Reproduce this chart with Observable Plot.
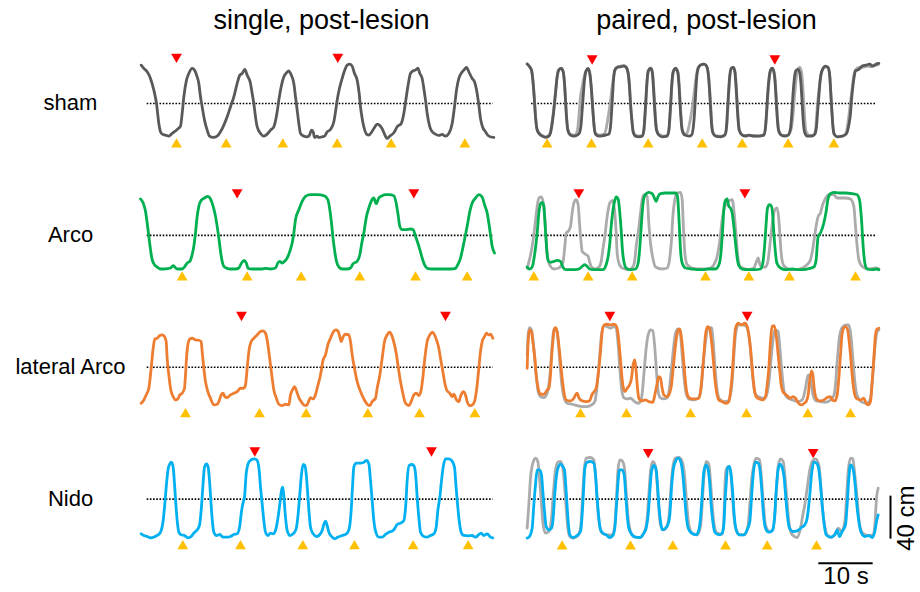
<!DOCTYPE html>
<html><head><meta charset="utf-8">
<script src="https://cdn.jsdelivr.net/npm/d3@7"></script>
<script src="https://cdn.jsdelivr.net/npm/@observablehq/plot@0.6"></script>
<style>body{margin:0;background:#fff}#chart svg{display:block}</style>
</head><body><div id="chart"></div>
<script>
// ---- categories ----
const conditions = ["single, post-lesion", "paired, post-lesion"];
const groups = ["sham", "Arco", "lateral Arco", "Nido"];

const T_PER_S = 16.3;        // time units per second (10 s bar)
const UNITS_PER_CM = 129 / 40; // height units per cm (40 cm bar)

// ---- traces: [time, height] ----
const shamSingle = [[32,115],[40,105],[50,95],[60,75],[70,40],[78,0],[85,-60],[90,-85],[95,-92],[105,-95],[115,-98],[125,-90],[140,-78],[150,-68],[155,-30],[160,20],[168,70],[175,90],[185,105],[192,100],[200,80],[205,60],[210,20],[215,-10],[222,-50],[230,-80],[237,-98],[248,-102],[260,-98],[270,-85],[280,-65],[290,-40],[300,-10],[310,20],[320,60],[328,85],[335,90],[343,102],[350,85],[360,60],[365,30],[370,0],[375,-40],[380,-70],[390,-90],[400,-98],[410,-92],[420,-80],[430,-70],[440,-25],[445,10],[452,50],[460,80],[468,92],[475,98],[480,90],[490,60],[495,20],[500,-20],[505,-60],[510,-90],[520,-98],[530,-100],[537,-95],[543,-80],[548,-85],[552,-102],[560,-98],[565,-102],[575,-100],[582,-98],[590,-85],[600,-78],[610,-55],[615,-25],[620,10],[628,50],[635,75],[642,98],[650,115],[658,118],[665,112],[672,90],[680,70],[686,30],[690,-10],[695,-45],[700,-70],[708,-92],[715,-95],[722,-88],[732,-72],[740,-62],[748,-66],[756,-78],[762,-92],[770,-105],[778,-98],[790,-88],[800,-70],[812,-60],[820,-30],[826,10],[832,50],[840,90],[848,98],[855,100],[862,106],[868,90],[875,75],[880,45],[885,10],[890,-30],[898,-70],[905,-85],[915,-92],[925,-96],[935,-93],[945,-98],[955,-90],[965,-60],[972,-10],[978,40],[985,75],[993,92],[1000,100],[1008,108],[1015,95],[1025,75],[1032,65],[1040,30],[1045,-5],[1050,-45],[1056,-70],[1065,-85],[1075,-98],[1090,-102]];

const shamPaired = [[35,118],[42,110],[48,100],[52,70],[56,20],[60,-40],[65,-80],[72,-92],[80,-98],[90,-102],[100,-98],[105,-88],[110,-60],[115,-20],[120,30],[125,80],[130,100],[137,105],[143,95],[147,60],[150,10],[153,-40],[157,-80],[165,-95],[175,-98],[185,-95],[192,-88],[197,-60],[200,-20],[203,20],[207,70],[212,98],[218,105],[223,90],[228,40],[232,-20],[236,-70],[240,-92],[250,-98],[260,-97],[270,-95],[280,-92],[285,-70],[288,-30],[291,20],[294,70],[298,100],[305,108],[315,110],[325,112],[332,108],[338,90],[342,50],[345,0],[349,-50],[353,-85],[360,-98],[370,-100],[380,-98],[385,-80],[388,-40],[391,10],[394,60],[398,98],[405,105],[410,95],[413,60],[416,10],[419,-40],[423,-80],[430,-95],[440,-100],[455,-98],[460,-80],[463,-40],[466,10],[469,60],[473,95],[480,105],[487,92],[490,60],[493,10],[496,-40],[500,-80],[508,-95],[520,-98],[528,-95],[533,-75],[537,-30],[540,20],[543,70],[548,105],[555,115],[565,118],[572,114],[578,90],[582,40],[585,-10],[588,-60],[592,-88],[600,-98],[615,-100],[628,-95],[633,-70],[636,-20],[639,30],[642,75],[647,105],[653,108],[658,95],[661,60],[664,10],[667,-40],[671,-80],[680,-95],[690,-98],[700,-95],[715,-98],[730,-98],[745,-95],[750,-70],[753,-30],[756,20],[760,70],[765,100],[770,106],[775,95],[779,60],[782,10],[785,-40],[789,-80],[797,-95],[808,-98],[818,-95],[825,-75],[829,-30],[832,20],[836,70],[841,98],[848,102],[853,90],[857,50],[860,0],[863,-50],[867,-85],[875,-98],[888,-98],[898,-92],[903,-70],[906,-30],[910,20],[914,70],[920,100],[930,112],[938,108],[943,80],[946,30],[949,-20],[952,-65],[956,-92],[965,-100],[980,-98],[992,-92],[1000,-65],[1005,-30],[1008,10],[1012,50],[1016,80],[1020,98],[1030,102],[1040,112],[1052,115],[1062,118],[1072,112],[1082,118],[1090,120]];

const shamPairedRef = [[35,120],[42,112],[48,100],[52,72],[56,25],[60,-35],[65,-78],[72,-90],[80,-96],[90,-100],[100,-96],[105,-85],[110,-55],[115,-15],[120,35],[125,82],[130,102],[137,106],[143,96],[147,62],[150,12],[153,-38],[157,-78],[165,-93],[178,-95],[186,-80],[190,-40],[195,20],[200,50],[207,85],[213,100],[218,104],[223,88],[228,38],[232,-20],[236,-68],[240,-90],[252,-95],[265,-92],[272,-75],[278,-40],[284,0],[290,50],[296,90],[302,108],[315,112],[325,114],[332,110],[338,92],[342,52],[345,2],[349,-48],[353,-83],[360,-96],[372,-98],[382,-95],[386,-75],[389,-35],[392,15],[395,65],[400,100],[406,107],[411,96],[414,60],[417,10],[420,-40],[424,-80],[432,-94],[445,-98],[456,-95],[461,-75],[464,-35],[467,15],[470,65],[474,96],[481,106],[488,92],[491,58],[494,8],[497,-42],[501,-82],[510,-93],[515,-88],[520,-70],[526,-40],[532,0],[537,40],[542,80],[548,108],[556,116],[566,118],[573,112],[579,88],[583,38],[586,-12],[589,-62],[593,-88],[602,-97],[618,-98],[629,-92],[634,-65],[637,-15],[640,35],[643,78],[648,106],[654,108],[659,94],[662,58],[665,8],[668,-42],[672,-82],[682,-95],[700,-96],[730,-97],[746,-92],[751,-65],[754,-25],[757,25],[761,72],[766,101],[771,106],[776,94],[780,58],[783,8],[786,-42],[790,-82],[800,-95],[815,-96],[826,-80],[832,-40],[836,10],[840,55],[845,95],[852,108],[858,95],[862,50],[865,0],[868,-50],[872,-85],[882,-96],[895,-95],[900,-80],[905,-15],[909,30],[914,70],[920,98],[930,110],[938,106],[943,78],[946,28],[949,-22],[952,-67],[956,-92],[966,-100],[985,-97],[993,-85],[997,-60],[1001,-30],[1005,5],[1010,45],[1014,78],[1020,100],[1030,108],[1042,108],[1055,112],[1065,110],[1075,114],[1088,116]];

const arcoSingle = [[30,109],[38,97],[45,72],[50,37],[55,-3],[60,-43],[65,-73],[72,-88],[80,-95],[90,-101],[100,-101],[110,-100],[120,-98],[128,-91],[133,-95],[140,-101],[155,-101],[162,-95],[170,-83],[178,-78],[185,-58],[190,-33],[195,7],[200,57],[205,87],[212,105],[222,112],[232,117],[240,109],[248,87],[255,57],[260,27],[265,-8],[270,-48],[275,-78],[280,-93],[290,-99],[300,-101],[315,-101],[325,-98],[333,-83],[342,-75],[348,-85],[353,-99],[365,-101],[380,-101],[395,-101],[405,-99],[420,-101],[435,-98],[442,-83],[448,-78],[455,-83],[462,-78],[470,-68],[478,-48],[485,-23],[490,7],[495,47],[505,77],[515,102],[525,117],[540,122],[560,122],[580,119],[592,107],[598,77],[603,37],[607,-3],[612,-43],[618,-78],[625,-95],[635,-101],[650,-101],[660,-98],[668,-85],[680,-78],[688,-58],[693,-28],[700,7],[708,57],[715,82],[722,102],[730,112],[737,95],[745,112],[755,119],[765,122],[775,122],[790,119],[797,97],[802,67],[808,27],[815,17],[825,17],[840,19],[848,17],[855,-3],[862,-23],[868,-43],[875,-68],[882,-88],[890,-99],[905,-101],[930,-101],[960,-101],[975,-99],[982,-88],[990,-68],[997,-38],[1003,-8],[1010,27],[1018,72],[1025,97],[1035,112],[1045,122],[1055,115],[1062,92],[1070,67],[1075,37],[1080,2],[1085,-33],[1092,-53]];

const arcoPaired = [[35,-95],[42,-101],[50,-95],[58,-53],[65,7],[70,67],[75,95],[80,99],[85,87],[88,47],[91,-3],[94,-48],[98,-75],[105,-81],[115,-78],[125,-75],[135,-78],[142,-95],[150,-103],[170,-103],[190,-101],[200,-93],[208,-88],[215,-93],[222,-101],[235,-103],[262,-103],[272,-88],[278,-63],[283,-23],[287,27],[292,72],[298,105],[303,115],[308,109],[313,67],[317,17],[320,-33],[325,-78],[332,-98],[345,-103],[360,-101],[368,-83],[372,-48],[376,7],[380,67],[385,112],[392,125],[400,129],[410,125],[418,109],[422,102],[428,117],[435,125],[450,127],[465,127],[480,127],[486,117],[489,77],[492,17],[495,-43],[500,-83],[510,-98],[530,-101],[560,-103],[580,-101],[600,-101],[612,-83],[618,-33],[622,27],[625,77],[630,105],[635,109],[640,87],[645,82],[650,67],[655,27],[660,-23],[665,-68],[670,-91],[680,-101],[700,-103],[720,-103],[735,-101],[742,-83],[748,-23],[752,37],[756,82],[762,92],[768,87],[772,57],[775,7],[779,-43],[784,-83],[795,-98],[810,-103],[830,-101],[850,-103],[875,-101],[895,-95],[902,-73],[905,-33],[908,-3],[915,7],[925,37],[932,72],[937,107],[945,125],[955,129],[970,127],[990,127],[1010,125],[1025,122],[1032,107],[1038,47],[1043,-33],[1048,-83],[1055,-101],[1070,-103],[1085,-101],[1090,-103]];

const arcoPairedRef = [[35,-98],[42,-73],[50,-33],[58,27],[65,87],[70,112],[78,115],[85,87],[90,17],[95,-53],[102,-88],[115,-101],[130,-98],[142,-83],[148,-33],[152,7],[158,12],[165,27],[170,67],[175,97],[182,107],[188,92],[192,37],[196,-13],[200,-48],[205,-53],[212,-58],[218,-63],[222,-78],[228,-95],[240,-101],[252,-93],[258,-73],[262,-43],[268,-3],[275,57],[283,97],[292,105],[298,67],[302,7],[305,-53],[310,-83],[320,-98],[340,-103],[352,-95],[358,-73],[362,-33],[368,7],[375,67],[380,107],[386,122],[395,117],[400,37],[405,-23],[412,-68],[420,-95],[440,-101],[455,-98],[462,-73],[468,-13],[472,57],[478,107],[485,127],[495,129],[500,107],[504,17],[508,-53],[515,-88],[530,-98],[560,-101],[585,-98],[595,-88],[605,-63],[612,-23],[620,47],[628,87],[635,97],[643,105],[650,107],[656,67],[662,-3],[667,-63],[675,-95],[700,-103],[715,-98],[722,-81],[728,-68],[732,-83],[738,-95],[750,-95],[758,-73],[765,-13],[772,47],[778,77],[785,82],[790,47],[794,-13],[798,-63],[805,-91],[820,-101],[840,-103],[860,-98],[875,-88],[885,-73],[893,-33],[900,17],[908,57],[915,67],[920,87],[928,107],[940,122],[955,122],[965,112],[975,112],[990,112],[1005,109],[1015,87],[1020,27],[1025,-33],[1030,-73],[1040,-93],[1060,-101],[1080,-98],[1090,-101]];

const latSingle = [[32,-108],[40,-98],[48,-81],[55,-63],[62,-3],[68,57],[73,85],[80,87],[88,95],[95,97],[102,92],[107,77],[110,27],[115,-23],[120,-63],[128,-88],[135,-98],[142,-95],[148,-83],[155,-78],[162,-63],[165,-23],[168,27],[172,67],[178,85],[185,87],[195,82],[205,81],[212,77],[215,47],[220,-3],[225,-43],[232,-73],[240,-93],[250,-113],[260,-111],[265,-103],[272,-83],[278,-78],[283,-88],[290,-91],[300,-83],[310,-78],[320,-73],[330,-63],[340,-63],[345,-53],[350,-3],[355,47],[362,77],[370,87],[380,97],[390,107],[398,109],[405,102],[410,82],[415,47],[420,7],[425,-33],[430,-68],[437,-91],[445,-111],[455,-115],[465,-111],[475,-113],[480,-83],[486,-68],[492,-58],[498,-71],[505,-91],[512,-103],[520,-113],[528,-115],[535,-101],[540,-91],[547,-95],[553,-88],[560,-63],[570,-23],[578,22],[585,37],[592,67],[600,87],[608,105],[615,112],[622,109],[628,92],[632,77],[638,92],[645,99],[655,97],[660,77],[665,37],[672,-3],[680,-43],[690,-73],[700,-95],[710,-111],[718,-115],[725,-103],[735,-93],[740,-63],[748,-23],[755,27],[762,77],[770,97],[778,105],[785,92],[792,67],[798,37],[803,2],[810,-43],[818,-83],[825,-108],[835,-115],[842,-103],[850,-83],[858,-78],[865,-85],[872,-68],[878,-23],[883,27],[890,77],[898,97],[906,105],[912,97],[918,82],[925,57],[930,27],[937,-13],[943,-48],[950,-71],[958,-78],[965,-88],[970,-81],[978,-98],[985,-103],[990,-88],[998,-73],[1005,-83],[1010,-103],[1018,-115],[1025,-113],[1032,-103],[1040,-53],[1045,-3],[1050,47],[1055,77],[1062,92],[1068,102],[1075,97],[1080,99],[1087,87]];

const latPaired = [[35,-3],[38,77],[42,112],[48,107],[52,77],[58,27],[62,-23],[68,-63],[75,-81],[85,-81],[95,-68],[100,-63],[105,-23],[108,27],[112,77],[116,112],[120,119],[125,107],[130,67],[135,17],[140,-33],[145,-73],[152,-98],[165,-101],[175,-93],[180,-83],[185,-78],[190,-91],[200,-101],[212,-103],[222,-101],[230,-81],[236,-73],[242,-63],[248,-23],[255,47],[260,107],[266,127],[275,129],[285,127],[295,129],[302,125],[308,97],[312,57],[317,-3],[322,-53],[328,-73],[335,-63],[342,-53],[348,-33],[352,2],[357,22],[362,-13],[366,-63],[370,-93],[378,-101],[390,-98],[400,-103],[412,-105],[418,-83],[424,-53],[430,-28],[435,-33],[440,-63],[445,-83],[455,-88],[462,-78],[468,-53],[472,-13],[477,37],[482,82],[488,112],[493,115],[498,87],[503,37],[508,-23],[512,-63],[518,-88],[528,-95],[540,-95],[550,-93],[555,-73],[560,-23],[565,37],[570,97],[576,122],[582,117],[588,77],[593,27],[598,-33],[603,-73],[610,-98],[620,-103],[632,-108],[640,-103],[645,-73],[650,-23],[655,57],[660,117],[668,132],[678,127],[688,132],[695,122],[700,97],[705,57],[710,-3],[716,-63],[722,-88],[732,-95],[742,-98],[750,-88],[755,-53],[760,-3],[765,77],[770,122],[776,125],[782,97],[787,47],[792,-3],[797,-53],[802,-73],[810,-81],[818,-88],[825,-93],[832,-88],[840,-93],[846,-103],[852,-111],[860,-113],[866,-108],[872,-103],[878,-83],[882,-43],[888,-11],[892,-23],[896,-63],[902,-93],[912,-101],[925,-98],[935,-91],[945,-88],[950,-98],[958,-101],[965,-83],[970,-33],[975,37],[980,102],[988,122],[995,117],[1000,87],[1005,37],[1010,-23],[1015,-68],[1022,-93],[1035,-98],[1045,-93],[1052,-108],[1058,-113],[1065,-103],[1070,-43],[1075,27],[1080,97],[1085,115],[1090,117]];

const latPairedRef = [[35,37],[38,97],[42,119],[48,112],[55,57],[62,-23],[68,-73],[75,-88],[85,-91],[95,-78],[100,-53],[105,-3],[110,67],[116,115],[122,115],[128,77],[133,17],[138,-43],[145,-88],[155,-108],[170,-111],[185,-115],[200,-118],[215,-118],[228,-113],[238,-103],[245,-53],[252,27],[258,97],[265,125],[275,122],[285,117],[295,122],[302,117],[308,67],[313,-3],[318,-63],[325,-91],[335,-95],[345,-93],[352,-98],[360,-105],[370,-108],[378,-93],[385,-23],[392,57],[398,97],[405,112],[412,109],[418,57],[423,-13],[428,-73],[434,-91],[445,-95],[455,-91],[462,-63],[467,-13],[473,47],[480,102],[488,115],[495,97],[500,37],[506,-33],[512,-78],[520,-95],[535,-98],[548,-93],[557,-63],[563,7],[570,77],[578,117],[588,119],[593,77],[598,7],[604,-63],[612,-95],[625,-103],[638,-101],[648,-63],[654,17],[660,97],[668,127],[680,127],[690,125],[700,97],[707,27],[713,-43],[720,-81],[735,-91],[748,-93],[758,-63],[765,7],[772,77],[778,112],[788,107],[794,47],[800,-23],[806,-73],[815,-91],[830,-98],[848,-103],[860,-98],[870,-63],[875,-33],[880,-23],[886,-43],[892,-81],[902,-101],[915,-103],[930,-105],[945,-98],[955,-85],[960,-53],[965,17],[972,92],[980,119],[992,127],[1000,127],[1006,97],[1012,27],[1018,-43],[1025,-85],[1040,-105],[1055,-108],[1065,-93],[1072,-23],[1078,57],[1085,107],[1090,112]];

const nidoSingle = [[32,-104],[40,-109],[50,-112],[60,-116],[70,-114],[80,-109],[90,-99],[98,-64],[103,-14],[108,46],[113,91],[118,106],[123,111],[128,96],[132,46],[136,-14],[140,-64],[145,-99],[152,-107],[162,-109],[172,-116],[182,-112],[190,-102],[200,-92],[207,-79],[212,-34],[217,36],[222,96],[228,106],[233,96],[237,56],[241,-4],[245,-59],[250,-99],[258,-109],[268,-106],[278,-114],[290,-114],[300,-112],[310,-106],[320,-104],[328,-79],[332,-44],[337,-14],[342,6],[347,76],[355,111],[362,118],[372,121],[380,116],[386,86],[390,36],[395,-14],[400,-64],[405,-99],[412,-109],[420,-102],[428,-104],[435,-94],[442,-59],[448,-14],[453,26],[457,36],[461,-4],[465,-54],[470,-94],[478,-109],[488,-104],[497,-89],[503,-44],[508,16],[513,76],[518,104],[523,101],[528,66],[532,11],[536,-44],[540,-84],[548,-104],[558,-112],[568,-106],[575,-94],[580,-76],[585,-66],[590,-79],[595,-99],[603,-112],[612,-119],[622,-114],[635,-109],[648,-104],[656,-89],[662,-34],[666,36],[670,96],[677,108],[690,108],[700,111],[708,116],[715,106],[720,56],[725,-4],[730,-64],[736,-99],[745,-114],[755,-114],[765,-106],[775,-99],[785,-96],[792,-89],[800,-76],[810,-72],[820,-64],[826,-14],[830,56],[836,101],[845,104],[852,96],[856,66],[860,6],[865,-54],[870,-99],[880,-112],[890,-114],[900,-109],[910,-104],[917,-84],[922,-34],[928,6],[932,46],[938,96],[945,121],[955,121],[965,114],[972,96],[976,46],[981,-14],[986,-64],[992,-99],[1000,-109],[1015,-110],[1025,-109],[1035,-114],[1045,-106],[1052,-102],[1060,-109],[1070,-104],[1080,-114],[1087,-116]];

const nidoPaired = [[35,-117],[42,-112],[50,-87],[55,-17],[60,43],[65,88],[72,88],[78,73],[82,23],[87,-37],[92,-82],[100,-92],[108,-87],[113,-57],[117,3],[122,63],[128,95],[135,105],[142,98],[147,88],[150,53],[154,-7],[158,-67],[163,-107],[172,-115],[185,-109],[195,-97],[200,-47],[204,23],[208,93],[215,111],[225,113],[235,108],[240,73],[245,3],[250,-57],[255,-92],[262,-102],[272,-107],[282,-115],[292,-109],[298,-87],[303,-17],[307,43],[312,88],[320,88],[326,73],[330,23],[335,-47],[340,-87],[350,-107],[360,-114],[375,-115],[385,-102],[392,-87],[398,-47],[403,23],[408,83],[415,101],[422,88],[426,43],[430,-17],[435,-67],[440,-92],[450,-87],[458,-75],[463,-47],[468,33],[474,93],[480,113],[488,123],[496,111],[502,73],[507,13],[512,-47],[518,-87],[528,-102],[542,-107],[550,-92],[555,-57],[560,13],[565,83],[572,103],[578,88],[583,43],[587,-17],[592,-67],[598,-99],[610,-107],[620,-102],[625,-77],[628,-17],[632,43],[636,93],[642,98],[647,73],[652,13],[656,-47],[662,-92],[672,-107],[685,-107],[695,-92],[703,-67],[708,3],[713,73],[720,111],[728,108],[734,83],[739,23],[744,-47],[750,-87],[760,-99],[770,-95],[777,-57],[782,23],[787,83],[793,105],[800,95],[806,63],[811,3],[816,-52],[822,-87],[832,-97],[845,-95],[858,-85],[868,-77],[875,-57],[882,3],[888,73],[895,111],[903,108],[910,88],[915,43],[920,-17],[925,-67],[932,-107],[945,-114],[958,-107],[965,-92],[972,-112],[980,-97],[990,-77],[995,-17],[1000,63],[1005,103],[1012,93],[1018,53],[1023,-7],[1030,-67],[1038,-102],[1048,-112],[1060,-109],[1070,-115],[1078,-97],[1083,-67],[1088,-47]];

const nidoPairedRef = [[35,-87],[40,-17],[45,63],[52,108],[60,123],[67,113],[72,63],[78,-17],[83,-77],[90,-102],[100,-97],[108,-57],[114,23],[120,88],[127,111],[135,113],[142,93],[147,43],[152,-27],[157,-87],[163,-112],[172,-117],[185,-112],[195,-87],[200,-17],[205,73],[212,123],[225,125],[235,118],[240,73],[245,-7],[252,-77],[260,-102],[275,-107],[290,-107],[298,-77],[303,3],[307,83],[313,118],[320,115],[327,93],[332,23],[338,-57],[345,-97],[355,-112],[370,-115],[385,-102],[395,-57],[400,13],[405,83],[412,113],[420,98],[425,43],[430,-27],[435,-77],[445,-92],[455,-79],[462,-37],[467,43],[473,103],[480,123],[490,125],[500,113],[508,63],[514,-17],[520,-77],[530,-102],[545,-107],[555,-82],[560,-17],[565,63],[572,113],[580,105],[585,53],[590,-17],[596,-77],[605,-102],[620,-105],[625,-62],[628,33],[632,88],[640,98],[645,83],[650,23],[655,-47],[662,-92],[672,-107],[688,-107],[698,-77],[703,-17],[708,53],[715,103],[722,123],[732,118],[738,63],[744,-17],[750,-77],[762,-97],[772,-92],[778,-47],[783,33],[788,98],[795,121],[803,113],[808,73],[814,3],[820,-67],[830,-107],[845,-115],[855,-87],[862,-47],[868,-17],[875,33],[882,83],[890,113],[900,121],[910,103],[915,53],[920,-17],[927,-77],[935,-107],[948,-115],[960,-102],[968,-87],[978,-97],[988,-67],[993,3],[998,83],[1005,123],[1012,121],[1018,73],[1025,3],[1030,-57],[1038,-97],[1050,-107],[1062,-109],[1072,-107],[1078,-77],[1083,3],[1088,33]];

// ---- event markers (times) ----
const redSham = [[138,622],[230,778]];
const redArco = [[320,850],[190,688]];
const redLat  = [[333,945],[283,695]];
const redNido = [[373,903],[398,893]];
const yellowSham = [[138,287,457,620,782,1003],[95,228,398,560,680,818,955]];
const yellowArco = [[155,350,512,688,855,1010],[55,218,350,570,700,822,1020]];
const yellowLat  = [[165,387,527,712,867,1033],[195,333,525,693,877,1005]];
const yellowNido = [[157,330,517,672,848,1013],[140,345,472,630,755,903]];
// marker heights per row, [single, paired]
const redHeight = [[140,135],[129,129],[157,157],[146,141]];
const yellowHeight = [[-123,-123],[-126,-126],[-141,-141],[-141,-142]];
// extent of dotted reference line per condition
const midExtent = [[50,1088],[48,1085]];

// ---- build tables ----
const mains = [[shamSingle, shamPaired],[arcoSingle, arcoPaired],[latSingle, latPaired],[nidoSingle, nidoPaired]];
const refs = [shamPairedRef, arcoPairedRef, latPairedRef, nidoPairedRef];
const reds = [redSham, redArco, redLat, redNido];
const yellows = [yellowSham, yellowArco, yellowLat, yellowNido];

const s = t => t / T_PER_S;
const cm = v => v / UNITS_PER_CM;
const mainRows = [], refRows = [], redRows = [], yellowRows = [], midRows = [];
groups.forEach((g, gi) => {
  conditions.forEach((c, ci) => {
    mains[gi][ci].forEach(([t, v]) => mainRows.push({fx: c, fy: g, id: g + ci, key: g, x: s(t), y: cm(v)}));
    reds[gi][ci].forEach(t => redRows.push({fx: c, fy: g, x: s(t), y: cm(redHeight[gi][ci])}));
    yellows[gi][ci].forEach(t => yellowRows.push({fx: c, fy: g, x: s(t), y: cm(yellowHeight[gi][ci])}));
    midRows.push({fx: c, fy: g, x1: s(midExtent[ci][0]), x2: s(midExtent[ci][1]), y: 0});
  });
  refs[gi].forEach(([t, v]) => refRows.push({fx: conditions[1], fy: g, id: g, x: s(t), y: cm(v)}));
});

// ---- layout ----
const W = 920, H = 592, mL = 130, mR = 35, mT = 37, mB = 27.4;
const bandH = (H - mT - mB) / groups.length;
const pxPerCm = 43 / 40;
const yHalf = (bandH / 2) / pxPerCm;
const facetW = 370, gap = 15;

const titles = conditions.map(c => ({fx: c, fy: groups[0], x: s(573), y: 74.6 / pxPerCm, text: c}));
const rowLabels = groups.map(g => ({fx: conditions[0], fy: g, x: s(-180), y: 0, text: g}));
const last = {fx: conditions[1], fy: groups[3]};
const hBar = [{...last, x1: s(910), x2: s(910) + 10, y: -64 / pxPerCm}];
const hLabel = [{...last, x: s(910) + 5, y: -84.7 / pxPerCm, text: "10 s"}];
const vBar = [{...last, x: s(1125), y1: 3 / pxPerCm, y2: 3 / pxPerCm - 40}];
const vLabel = [{...last, x: s(1173), y: -19 / pxPerCm, text: "40 cm"}];

const font = "'Liberation Sans', Arial, Helvetica, sans-serif";

const chart = Plot.plot({
  width: W, height: H,
  marginLeft: mL, marginRight: mR, marginTop: mT, marginBottom: mB,
  style: {fontFamily: font, background: "#fff", overflow: "visible"},
  fx: {domain: conditions, paddingInner: gap / (facetW + gap), paddingOuter: 0, round: false, axis: null},
  fy: {domain: groups, paddingInner: 0, paddingOuter: 0, round: false, axis: null},
  x: {domain: [0, s(1110)], axis: null},
  y: {domain: [-yHalf, yHalf], axis: null},
  color: {domain: groups, range: ["#595959", "#00b050", "#ed7d31", "#00b0f0"]},
  marks: [
    Plot.ruleY(midRows, {fx: "fx", fy: "fy", x1: "x1", x2: "x2", y: "y", stroke: "#000", strokeWidth: 1.6, strokeDasharray: "1.6,1.6"}),
    Plot.line(refRows, {fx: "fx", fy: "fy", x: "x", y: "y", z: "id", curve: "monotone-x", stroke: "#ababab", strokeWidth: 2.8, strokeLinejoin: "round"}),
    Plot.line(mainRows, {fx: "fx", fy: "fy", x: "x", y: "y", z: "id", curve: "monotone-x", stroke: "key", strokeWidth: 2.8, strokeLinejoin: "round"}),
    Plot.dot(redRows, {fx: "fx", fy: "fy", x: "x", y: "y", symbol: "triangle", rotate: 180, r: 4, fill: "#ff0000", stroke: "none"}),
    Plot.dot(yellowRows, {fx: "fx", fy: "fy", x: "x", y: "y", symbol: "triangle", r: 4, fill: "#ffc000", stroke: "none"}),
    Plot.text(titles, {fx: "fx", fy: "fy", x: "x", y: "y", text: "text", fontSize: 27, lineAnchor: "bottom", fill: "#000"}),
    Plot.text(rowLabels, {fx: "fx", fy: "fy", x: "x", y: "y", text: "text", fontSize: 22, textAnchor: "middle", lineAnchor: "middle", fill: "#000"}),
    Plot.ruleY(hBar, {fx: "fx", fy: "fy", x1: "x1", x2: "x2", y: "y", stroke: "#000", strokeWidth: 2}),
    Plot.text(hLabel, {fx: "fx", fy: "fy", x: "x", y: "y", text: "text", fontSize: 24, lineAnchor: "bottom", fill: "#000"}),
    Plot.ruleX(vBar, {fx: "fx", fy: "fy", x: "x", y1: "y1", y2: "y2", stroke: "#000", strokeWidth: 2}),
    Plot.text(vLabel, {fx: "fx", fy: "fy", x: "x", y: "y", text: "text", fontSize: 24, rotate: -90, lineAnchor: "middle", fill: "#000"})
  ]
});
document.getElementById("chart").appendChild(chart);
</script>
</body></html>
